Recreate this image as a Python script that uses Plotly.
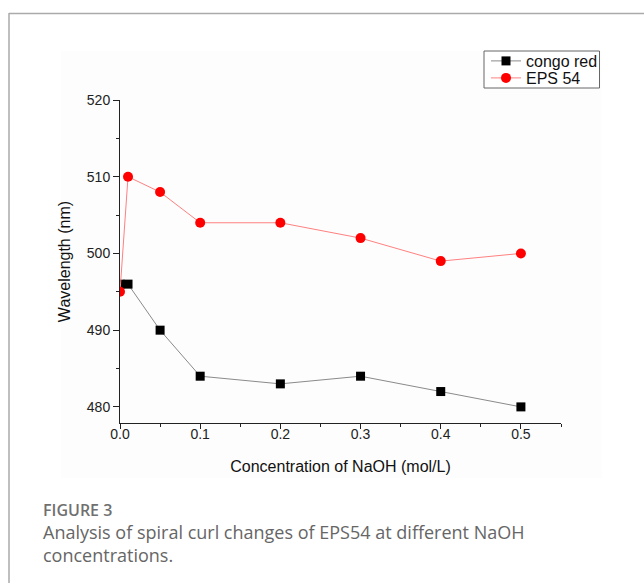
import plotly.graph_objects as go

naoh = [0.0, 0.01, 0.05, 0.1, 0.2, 0.3, 0.4, 0.5]
congo_red = [496, 496, 490, 484, 483, 484, 482, 480]
eps54 = [495, 510, 508, 504, 504, 502, 499, 500]
x_ticks = [0.0, 0.1, 0.2, 0.3, 0.4, 0.5]
y_ticks = [480, 490, 500, 510, 520]

W, H = 644, 583
L, R, T, B = 120, 83, 100, 160
pw, ph = W - L - R, H - T - B

def px(x):
    return (x - L) / pw

def py(y):
    return (H - B - y) / ph

FONT = "Liberation Sans"

fig = go.Figure()
fig.add_trace(go.Scatter(
    x=naoh, y=congo_red, name="congo red", mode="lines+markers",
    line=dict(color="#8a8a8a", width=1),
    marker=dict(symbol="square", size=9, color="black"),
    legend="legend",
))
fig.add_trace(go.Scatter(
    x=naoh, y=eps54, name="EPS 54", mode="lines+markers",
    line=dict(color="#ff8080", width=1),
    marker=dict(symbol="circle", size=10, color="#ff0000"),
    legend="legend2",
))

axis_font = dict(family=FONT, size=14, color="#222")
fig.update_xaxes(
    range=[0, 0.55], tickvals=x_ticks, ticktext=[f"{v:.1f}" for v in x_ticks],
    showgrid=False, zeroline=False, showline=True, linecolor="#222", linewidth=1,
    ticks="outside", ticklen=5, tickcolor="#222", ticklabelstandoff=-7,
    minor=dict(dtick=0.05, tick0=0, ticks="outside", ticklen=3, tickcolor="#222", showgrid=False),
    tickfont=axis_font,
    title=dict(text="Concentration of NaOH (mol/L)", font=dict(family=FONT, size=16, color="#111"), standoff=20),
)
fig.update_yaxes(
    range=[477.9, 520], tickvals=y_ticks,
    showgrid=False, zeroline=False, showline=True, linecolor="#222", linewidth=1,
    ticks="outside", ticklen=6, tickcolor="#222",
    minor=dict(dtick=5, tick0=480, ticks="outside", ticklen=3, tickcolor="#222", showgrid=False),
    tickfont=axis_font,
    title=dict(text="Wavelength (nm)", font=dict(family=FONT, size=16, color="#111"), standoff=12),
)

shapes = [
    dict(type="rect", xref="paper", yref="paper", x0=px(61), x1=px(602), y0=py(478), y1=py(51),
         fillcolor="#fdfdfd", line=dict(width=0), layer="below"),
    dict(type="rect", xref="paper", yref="paper", x0=px(484), x1=px(599.5), y0=py(88), y1=py(51),
         fillcolor="white", line=dict(color="#666", width=1), layer="below"),
    dict(type="line", xref="paper", yref="paper", x0=px(9), x1=px(9), y0=py(13), y1=py(583),
         line=dict(color="#aaaaaa", width=1.5)),
    dict(type="line", xref="paper", yref="paper", x0=px(9), x1=px(644), y0=py(13.5), y1=py(13.5),
         line=dict(color="#aaaaaa", width=1.5)),
]

annotations = [
    dict(xref="paper", yref="paper", x=px(41), y=py(510), xanchor="left", yanchor="middle",
         text="FIGURE 3", showarrow=False,
         font=dict(family="Open Sans", size=16, weight=600, color="#707070")),
    dict(xref="paper", yref="paper", x=px(41), y=py(543), xanchor="left", yanchor="middle",
         align="left", showarrow=False,
         text="Analysis of spiral curl changes of EPS54 at different NaOH<br>concentrations.",
         font=dict(family="Open Sans", size=18, color="#666")),
]

leg_common = dict(xanchor="left", yanchor="middle", borderwidth=0,
                  bgcolor="rgba(0,0,0,0)",
                  font=dict(family=FONT, size=16, color="#111"), itemwidth=30)

fig.update_layout(
    width=W, height=H,
    margin=dict(l=L, r=R, t=T, b=B, pad=0),
    paper_bgcolor="white", plot_bgcolor="rgba(0,0,0,0)",
    showlegend=True,
    legend=dict(x=px(486), y=py(61), **leg_common),
    legend2=dict(x=px(486), y=py(78), **leg_common),
    shapes=shapes, annotations=annotations,
)

fig.write_html("out.html")
